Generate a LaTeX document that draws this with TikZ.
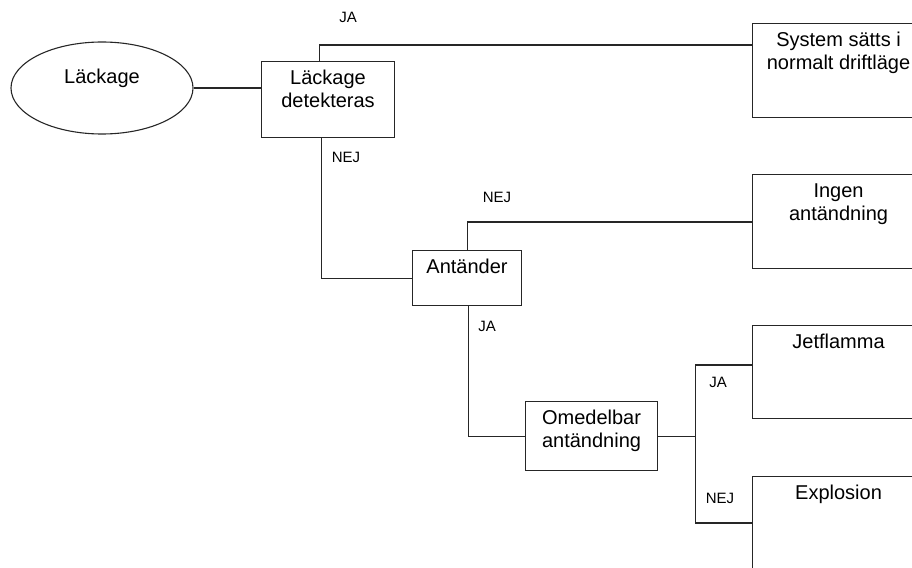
\documentclass[tikz,border=0pt]{standalone}
\usepackage{fontspec}
\setmainfont{Liberation Sans}
\usetikzlibrary{shapes.geometric}
\newcommand\boxtext[3]{\parbox[c][#2][t]{#1}{\centering\vspace*{7pt}\strut #3}}
\tikzset{
  conn/.style={line width=1.1pt, draw=black!85},
  stepbox/.style={draw=black!85, line width=1.1pt, inner sep=0pt, anchor=north west,
    font=\fontsize{20}{23}\selectfont},
  lbl/.style={font=\fontsize{15}{17}\selectfont, inner sep=0pt},
}
\begin{document}
\begin{tikzpicture}[x=1pt,y=-1pt]
\useasboundingbox (0,0) rectangle (912,567);
% nodes
\node[ellipse, draw=black!85, line width=1.1pt, minimum width=182pt, minimum height=92pt,
      inner sep=0pt, font=\fontsize{20}{23}\selectfont] (lk) at (102,88)
      {\raisebox{4pt}[0pt][0pt]{Läckage}};
\node[stepbox] (det) at (261,61) {\boxtext{133pt}{76pt}{Läckage\\detekteras}};
\node[stepbox] (sys) at (752,23) {\boxtext{172pt}{94pt}{System sätts i\\normalt driftläge}};
\node[stepbox] (ant) at (412,250) {\boxtext{109pt}{55pt}{Antänder}};
\node[stepbox] (ing) at (752,174) {\boxtext{172pt}{94pt}{Ingen\\antändning}};
\node[stepbox] (om) at (525,401) {\boxtext{132pt}{69pt}{Omedelbar\\antändning}};
\node[stepbox] (jet) at (752,325) {\boxtext{172pt}{93pt}{Jetflamma}};
\node[stepbox] (exp) at (752,476) {\boxtext{172pt}{93pt}{Explosion}};
% labels
\node[lbl] (l1) at (348,17) {JA};
\node[lbl] (l2) at (346,157) {NEJ};
\node[lbl] (l3) at (497,197) {NEJ};
\node[lbl] (l4) at (487,326) {JA};
\node[lbl] (l5) at (718,382) {JA};
\node[lbl] (l6) at (720,498) {NEJ};
% connectors
\draw[conn] (lk.east) -- (lk.east -| det.west);
\draw[conn] ([xshift=-8.5pt]det.north) |- ([yshift=-22pt]sys.north west);
\draw[conn] ([xshift=-6.5pt]det.south) |- (ant.west);
\draw[conn] ([xshift=0.5pt]ant.north) |- ([yshift=-48pt]ing.north west);
\draw[conn] ([xshift=1.5pt]ant.south) |- (om.west);
\coordinate (split) at ([xshift=37pt]om.east);
\draw[conn] (om.east) -- (split);
\draw[conn] ([yshift=-40pt]jet.north west) -| (split);
\draw[conn] (split) |- ([yshift=-47pt]exp.north west);
\end{tikzpicture}
\end{document}
